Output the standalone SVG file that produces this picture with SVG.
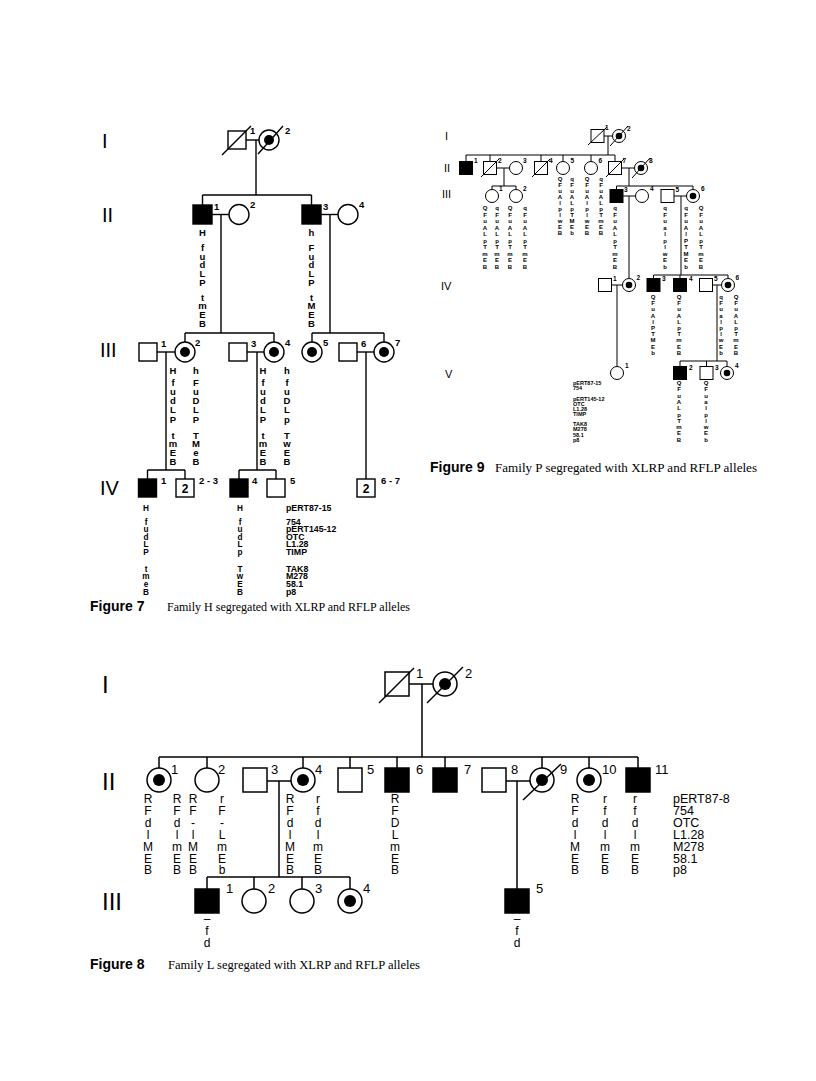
<svg xmlns="http://www.w3.org/2000/svg" width="816" height="1081" viewBox="0 0 816 1081">
<style>
.s7{stroke:#000;stroke-width:1.4;fill:none}
.s9{stroke:#000;stroke-width:1;fill:none}
.s8{stroke:#000;stroke-width:1.5;fill:none}
.o{fill:#fff}
.f{fill:#000}
text{font-family:"Liberation Sans",Arial,sans-serif;fill:#000}
.r7{font-size:20px}
.r8{font-size:24px}
.r9{font-size:11px}
.n7{font-size:9.5px;font-weight:bold}
.l7{font-size:9.5px;font-weight:bold;text-anchor:middle}
.l7s{font-size:8.2px;font-weight:bold;text-anchor:middle}
.g7{font-size:8.8px;font-weight:bold}
.in7{font-size:12px;font-weight:bold;text-anchor:middle}
.n9{font-size:6.5px;font-weight:bold}
.l9{font-size:6px;font-weight:bold;text-anchor:middle}
.g9{font-size:5.5px;font-weight:bold}
.n8{font-size:13px}
.l8{font-size:12px;text-anchor:middle}
.g8{font-size:12.5px}
.capb{font-size:14px;font-weight:bold}
.caps{font-family:"Liberation Serif","Times New Roman",serif;font-size:11.5px}
</style>
<rect width="816" height="1081" fill="#fff"/>

<!-- ================= FIGURE 7 ================= -->
<g id="fig7">
<text class="r7" x="102" y="148">I</text>
<text class="r7" x="102" y="222">II</text>
<text class="r7" x="100" y="357">III</text>
<text class="r7" x="100" y="495">IV</text>
<g id="f7-connectors" class="s7">
<line x1="246" y1="140" x2="259" y2="140"/>
<line x1="256" y1="140" x2="256" y2="195"/>
<line x1="202.5" y1="195" x2="311.5" y2="195"/>
<line x1="202.5" y1="195" x2="202.5" y2="205"/>
<line x1="311.5" y1="195" x2="311.5" y2="205"/>
<line x1="212" y1="214.5" x2="229" y2="214.5"/>
<line x1="221" y1="214.5" x2="221" y2="333"/>
<line x1="321" y1="214.5" x2="338" y2="214.5"/>
<line x1="330" y1="214.5" x2="330" y2="333"/>
<line x1="185" y1="333" x2="274" y2="333"/>
<line x1="185" y1="333" x2="185" y2="342"/>
<line x1="274" y1="333" x2="274" y2="342"/>
<line x1="312" y1="333" x2="384" y2="333"/>
<line x1="312" y1="333" x2="312" y2="342"/>
<line x1="384" y1="333" x2="384" y2="342"/>
<line x1="157" y1="352" x2="175" y2="352"/>
<line x1="166" y1="352" x2="166" y2="470"/>
<line x1="247" y1="352" x2="264" y2="352"/>
<line x1="257" y1="352" x2="257" y2="470"/>
<line x1="357" y1="352" x2="374" y2="352"/>
<line x1="366" y1="352" x2="366" y2="479"/>
<line x1="147.5" y1="470" x2="185" y2="470"/>
<line x1="147.5" y1="470" x2="147.5" y2="479"/>
<line x1="185" y1="470" x2="185" y2="479"/>
<line x1="239" y1="470" x2="276" y2="470"/>
<line x1="239" y1="470" x2="239" y2="479"/>
<line x1="276" y1="470" x2="276" y2="479"/>
</g>
<g id="f7-I-1"><rect class="s7 o" x="228" y="131" width="18" height="18"/><line class="s7" x1="222" y1="155" x2="251" y2="126"/><text class="n7" x="250" y="134">1</text></g>
<g id="f7-I-2"><circle class="s7 o" cx="269" cy="140" r="10"/><circle class="f" cx="269" cy="140" r="5"/><line class="s7" x1="258" y1="154" x2="283" y2="126"/><text class="n7" x="285" y="134">2</text></g>
<g id="f7-II-1"><rect class="s7 f" x="193" y="205" width="19" height="19"/><text class="n7" x="214" y="210">1</text></g>
<g id="f7-II-2"><circle class="s7 o" cx="239" cy="214.5" r="10"/><text class="n7" x="250" y="208">2</text></g>
<g id="f7-II-3"><rect class="s7 f" x="302" y="205" width="19" height="19"/><text class="n7" x="323" y="210">3</text></g>
<g id="f7-II-4"><circle class="s7 o" cx="348" cy="214.5" r="10"/><text class="n7" x="359" y="208">4</text></g>
<g id="f7-III-1"><rect class="s7 o" x="139" y="343" width="18" height="18"/><text class="n7" x="161" y="347">1</text></g>
<g id="f7-III-2"><circle class="s7 o" cx="185" cy="352" r="10"/><circle class="f" cx="185" cy="352" r="5"/><text class="n7" x="195" y="346">2</text></g>
<g id="f7-III-3"><rect class="s7 o" x="229" y="343" width="18" height="18"/><text class="n7" x="251" y="347">3</text></g>
<g id="f7-III-4"><circle class="s7 o" cx="274" cy="352" r="10"/><circle class="f" cx="274" cy="352" r="5"/><text class="n7" x="285" y="346">4</text></g>
<g id="f7-III-5"><circle class="s7 o" cx="312" cy="352" r="10"/><circle class="f" cx="312" cy="352" r="5"/><text class="n7" x="323" y="346">5</text></g>
<g id="f7-III-6"><rect class="s7 o" x="339" y="343" width="18" height="18"/><text class="n7" x="361" y="347">6</text></g>
<g id="f7-III-7"><circle class="s7 o" cx="384" cy="352" r="10"/><circle class="f" cx="384" cy="352" r="5"/><text class="n7" x="395" y="346">7</text></g>
<g id="f7-IV-1"><rect class="s7 f" x="138.5" y="479" width="18" height="18"/><text class="n7" x="161" y="484">1</text></g>
<g id="f7-IV-2-3"><rect class="s7 o" x="176" y="479" width="18" height="18"/><text class="in7" x="185" y="493">2</text><text class="n7" x="199" y="484">2 - 3</text></g>
<g id="f7-IV-4"><rect class="s7 f" x="230" y="479" width="18" height="18"/><text class="n7" x="252" y="484">4</text></g>
<g id="f7-IV-5"><rect class="s7 o" x="267" y="479" width="18" height="18"/><text class="n7" x="290" y="484">5</text></g>
<g id="f7-IV-6-7"><rect class="s7 o" x="357" y="479" width="18" height="18"/><text class="in7" x="366" y="493">2</text><text class="n7" x="381" y="484">6 - 7</text></g>
<g id="f7-labels">
<text class="l7" x="202.5" y="236">H<tspan x="202.5" dy="15">f</tspan><tspan x="202.5" dy="8.7">u</tspan><tspan x="202.5" dy="8.7">d</tspan><tspan x="202.5" dy="8.7">L</tspan><tspan x="202.5" dy="8.7">P</tspan><tspan x="202.5" dy="14.7">t</tspan><tspan x="202.5" dy="8.7">m</tspan><tspan x="202.5" dy="8.7">E</tspan><tspan x="202.5" dy="8.7">B</tspan></text>
<text class="l7" x="311.5" y="236">h<tspan x="311.5" dy="15">F</tspan><tspan x="311.5" dy="8.7">u</tspan><tspan x="311.5" dy="8.7">d</tspan><tspan x="311.5" dy="8.7">L</tspan><tspan x="311.5" dy="8.7">P</tspan><tspan x="311.5" dy="14.7">t</tspan><tspan x="311.5" dy="8.7">M</tspan><tspan x="311.5" dy="8.7">E</tspan><tspan x="311.5" dy="8.7">B</tspan></text>
<text class="l7" x="173" y="373.5">H<tspan x="173" dy="12">f</tspan><tspan x="173" dy="9">u</tspan><tspan x="173" dy="9">d</tspan><tspan x="173" dy="9">L</tspan><tspan x="173" dy="10">P</tspan><tspan x="173" dy="16">t</tspan><tspan x="173" dy="8">m</tspan><tspan x="173" dy="9">E</tspan><tspan x="173" dy="9">B</tspan></text>
<text class="l7" x="196" y="373.5">h<tspan x="196" dy="12">F</tspan><tspan x="196" dy="9">u</tspan><tspan x="196" dy="9">D</tspan><tspan x="196" dy="9">L</tspan><tspan x="196" dy="10">P</tspan><tspan x="196" dy="16">T</tspan><tspan x="196" dy="8">M</tspan><tspan x="196" dy="9">e</tspan><tspan x="196" dy="9">B</tspan></text>
<text class="l7" x="263" y="373.5">H<tspan x="263" dy="12">f</tspan><tspan x="263" dy="9">u</tspan><tspan x="263" dy="9">d</tspan><tspan x="263" dy="9">L</tspan><tspan x="263" dy="10">P</tspan><tspan x="263" dy="16">t</tspan><tspan x="263" dy="8">m</tspan><tspan x="263" dy="9">E</tspan><tspan x="263" dy="9">B</tspan></text>
<text class="l7" x="287" y="373.5">h<tspan x="287" dy="12">f</tspan><tspan x="287" dy="9">u</tspan><tspan x="287" dy="9">D</tspan><tspan x="287" dy="9">L</tspan><tspan x="287" dy="10">p</tspan><tspan x="287" dy="16">T</tspan><tspan x="287" dy="8">w</tspan><tspan x="287" dy="9">E</tspan><tspan x="287" dy="9">B</tspan></text>
<text class="l7s" x="146" y="510.5">H<tspan x="146" dy="14">f</tspan><tspan x="146" dy="7">u</tspan><tspan x="146" dy="8">d</tspan><tspan x="146" dy="7">L</tspan><tspan x="146" dy="8">P</tspan><tspan x="146" dy="17">t</tspan><tspan x="146" dy="7">m</tspan><tspan x="146" dy="8">e</tspan><tspan x="146" dy="8">B</tspan></text>
<text class="l7s" x="240" y="510.5">H<tspan x="240" dy="14">f</tspan><tspan x="240" dy="7">u</tspan><tspan x="240" dy="8">d</tspan><tspan x="240" dy="7">L</tspan><tspan x="240" dy="8">p</tspan><tspan x="240" dy="17">T</tspan><tspan x="240" dy="7">w</tspan><tspan x="240" dy="8">E</tspan><tspan x="240" dy="8">B</tspan></text>
<text class="g7" x="286" y="510.5">pERT87-15</text>
<text class="g7" x="286" y="524.5">754</text>
<text class="g7" x="286" y="531.5">pERT145-12</text>
<text class="g7" x="286" y="539.5">OTC</text>
<text class="g7" x="286" y="546.5">L1.28</text>
<text class="g7" x="286" y="554.5">TIMP</text>
<text class="g7" x="286" y="571.5">TAK8</text>
<text class="g7" x="286" y="578.5">M278</text>
<text class="g7" x="286" y="586.5">58.1</text>
<text class="g7" x="286" y="594.5">p8</text>
</g>
<g id="f7-caption"><text class="capb" x="90" y="611">Figure 7</text><text class="caps" x="167" y="611" textLength="243" lengthAdjust="spacingAndGlyphs">Family H segregated with XLRP and RFLP alleles</text></g>
</g>

<!-- ================= FIGURE 9 ================= -->
<g id="fig9">
<text class="r9" x="445" y="140">I</text>
<text class="r9" x="444" y="172">II</text>
<text class="r9" x="442" y="198">III</text>
<text class="r9" x="441" y="290">IV</text>
<text class="r9" x="445" y="378">V</text>
<g id="f9-connectors" class="s9">
<line x1="604" y1="136" x2="612.5" y2="136"/>
<line x1="608" y1="136" x2="608" y2="155"/>
<line x1="466" y1="155" x2="615" y2="155"/>
<line x1="466" y1="155" x2="466" y2="161.5"/>
<line x1="490" y1="155" x2="490" y2="161.5"/>
<line x1="541" y1="155" x2="541" y2="161.5"/>
<line x1="563" y1="155" x2="563" y2="161.5"/>
<line x1="591" y1="155" x2="591" y2="161.5"/>
<line x1="615" y1="155" x2="615" y2="161.5"/>
<line x1="496.5" y1="168" x2="509.5" y2="168"/>
<line x1="504" y1="168" x2="504" y2="186"/>
<line x1="621.5" y1="168" x2="634.5" y2="168"/>
<line x1="629" y1="168" x2="629" y2="186"/>
<line x1="492" y1="186" x2="516" y2="186"/>
<line x1="492" y1="186" x2="492" y2="189.5"/>
<line x1="516" y1="186" x2="516" y2="189.5"/>
<line x1="616.5" y1="186" x2="693" y2="186"/>
<line x1="616.5" y1="186" x2="616.5" y2="189.5"/>
<line x1="693" y1="186" x2="693" y2="189.5"/>
<line x1="623" y1="196" x2="635.5" y2="196"/>
<line x1="629" y1="196" x2="629" y2="278.5"/>
<line x1="674" y1="196" x2="686.5" y2="196"/>
<line x1="681" y1="196" x2="681" y2="275"/>
<line x1="653.5" y1="275" x2="728" y2="275"/>
<line x1="653.5" y1="275" x2="653.5" y2="278.5"/>
<line x1="680" y1="275" x2="680" y2="278.5"/>
<line x1="728" y1="275" x2="728" y2="278.5"/>
<line x1="611.5" y1="285" x2="622.5" y2="285"/>
<line x1="617" y1="285" x2="617" y2="366.5"/>
<line x1="712.5" y1="285" x2="721.5" y2="285"/>
<line x1="717" y1="285" x2="717" y2="361"/>
<line x1="680" y1="361" x2="727" y2="361"/>
<line x1="680" y1="361" x2="680" y2="366.5"/>
<line x1="706.5" y1="361" x2="706.5" y2="366.5"/>
<line x1="727" y1="361" x2="727" y2="366.5"/>
</g>
<g id="f9-I-1"><rect class="s9 o" x="591" y="129.5" width="13" height="13"/><line class="s9" x1="588" y1="145" x2="607" y2="127"/><text class="n9" x="605" y="130">1</text></g>
<g id="f9-I-2"><circle class="s9 o" cx="619" cy="136" r="6.5"/><circle class="f" cx="619" cy="136" r="3.3"/><line class="s9" x1="610" y1="146" x2="628" y2="126"/><text class="n9" x="627" y="131">2</text></g>
<g id="f9-II-1"><rect class="s9 f" x="459.5" y="161.5" width="13" height="13"/><text class="n9" x="474" y="163">1</text></g>
<g id="f9-II-2"><rect class="s9 o" x="483.5" y="161.5" width="13" height="13"/><line class="s9" x1="481" y1="177" x2="499" y2="159"/><text class="n9" x="498" y="163">2</text></g>
<g id="f9-II-3"><circle class="s9 o" cx="516" cy="168" r="6.5"/><text class="n9" x="523" y="163">3</text></g>
<g id="f9-II-4"><rect class="s9 o" x="534.5" y="161.5" width="13" height="13"/><line class="s9" x1="532" y1="177" x2="550" y2="159"/><text class="n9" x="549" y="163">4</text></g>
<g id="f9-II-5"><circle class="s9 o" cx="563" cy="168" r="6.5"/><text class="n9" x="570.5" y="163">5</text></g>
<g id="f9-II-6"><circle class="s9 o" cx="591" cy="168" r="6.5"/><text class="n9" x="598.5" y="163">6</text></g>
<g id="f9-II-7"><rect class="s9 o" x="608.5" y="161.5" width="13" height="13"/><line class="s9" x1="606" y1="177" x2="624" y2="159"/><text class="n9" x="622.5" y="163">7</text></g>
<g id="f9-II-8"><circle class="s9 o" cx="641" cy="168" r="6.5"/><circle class="f" cx="641" cy="168" r="3.3"/><line class="s9" x1="632" y1="178" x2="650" y2="158"/><text class="n9" x="649" y="163">8</text></g>
<g id="f9-III-1"><circle class="s9 o" cx="492" cy="196" r="6.5"/><text class="n9" x="499" y="191">1</text></g>
<g id="f9-III-2"><circle class="s9 o" cx="516" cy="196" r="6.5"/><text class="n9" x="523" y="191">2</text></g>
<g id="f9-III-3"><rect class="s9 f" x="610" y="189.5" width="13" height="13"/><text class="n9" x="624" y="192">3</text></g>
<g id="f9-III-4"><circle class="s9 o" cx="642" cy="196" r="6.5"/><text class="n9" x="650" y="191">4</text></g>
<g id="f9-III-5"><rect class="s9 o" x="661" y="189.5" width="13" height="13"/><text class="n9" x="675.5" y="192">5</text></g>
<g id="f9-III-6"><circle class="s9 o" cx="693" cy="196" r="6.5"/><circle class="f" cx="693" cy="196" r="3.3"/><text class="n9" x="701" y="191">6</text></g>
<g id="f9-IV-1"><rect class="s9 o" x="598.5" y="278.5" width="13" height="13"/><text class="n9" x="613" y="281">1</text></g>
<g id="f9-IV-2"><circle class="s9 o" cx="629" cy="285" r="6.5"/><circle class="f" cx="629" cy="285" r="3.3"/><text class="n9" x="636.5" y="280">2</text></g>
<g id="f9-IV-3"><rect class="s9 f" x="647" y="278.5" width="13" height="13"/><text class="n9" x="662" y="281">3</text></g>
<g id="f9-IV-4"><rect class="s9 f" x="673.5" y="278.5" width="13" height="13"/><text class="n9" x="689" y="281">4</text></g>
<g id="f9-IV-5"><rect class="s9 o" x="699.5" y="278.5" width="13" height="13"/><text class="n9" x="714" y="281">5</text></g>
<g id="f9-IV-6"><circle class="s9 o" cx="728" cy="285" r="6.5"/><circle class="f" cx="728" cy="285" r="3.3"/><text class="n9" x="735.5" y="280">6</text></g>
<g id="f9-V-1"><circle class="s9 o" cx="617" cy="373" r="6.5"/><text class="n9" x="625" y="368">1</text></g>
<g id="f9-V-2"><rect class="s9 f" x="673.5" y="366.5" width="13" height="13"/><text class="n9" x="689" y="370">2</text></g>
<g id="f9-V-3"><rect class="s9 o" x="700" y="366.5" width="13" height="13"/><text class="n9" x="715" y="370">3</text></g>
<g id="f9-V-4"><circle class="s9 o" cx="727" cy="373" r="6.5"/><circle class="f" cx="727" cy="373" r="3.3"/><text class="n9" x="735" y="368">4</text></g>
<g id="f9-labels">
<text class="l9" x="560" y="180.5">Q<tspan x="560" dy="6">F</tspan><tspan x="560" dy="6">u</tspan><tspan x="560" dy="6">A</tspan><tspan x="560" dy="6">l</tspan><tspan x="560" dy="6">p</tspan><tspan x="560" dy="6">l</tspan><tspan x="560" dy="6">w</tspan><tspan x="560" dy="6">E</tspan><tspan x="560" dy="6">B</tspan></text>
<text class="l9" x="572" y="180.5">q<tspan x="572" dy="6">F</tspan><tspan x="572" dy="6">u</tspan><tspan x="572" dy="6">A</tspan><tspan x="572" dy="6">L</tspan><tspan x="572" dy="6">p</tspan><tspan x="572" dy="6">T</tspan><tspan x="572" dy="6">M</tspan><tspan x="572" dy="6">E</tspan><tspan x="572" dy="6">b</tspan></text>
<text class="l9" x="587" y="180.5">Q<tspan x="587" dy="6">F</tspan><tspan x="587" dy="6">u</tspan><tspan x="587" dy="6">A</tspan><tspan x="587" dy="6">l</tspan><tspan x="587" dy="6">p</tspan><tspan x="587" dy="6">l</tspan><tspan x="587" dy="6">w</tspan><tspan x="587" dy="6">E</tspan><tspan x="587" dy="6">B</tspan></text>
<text class="l9" x="601" y="180.5">q<tspan x="601" dy="6">F</tspan><tspan x="601" dy="6">u</tspan><tspan x="601" dy="6">A</tspan><tspan x="601" dy="6">L</tspan><tspan x="601" dy="6">p</tspan><tspan x="601" dy="6">T</tspan><tspan x="601" dy="6">m</tspan><tspan x="601" dy="6">E</tspan><tspan x="601" dy="6">B</tspan></text>
<text class="l9" x="485" y="210">Q<tspan x="485" dy="6.55">F</tspan><tspan x="485" dy="6.55">u</tspan><tspan x="485" dy="6.55">A</tspan><tspan x="485" dy="6.55">L</tspan><tspan x="485" dy="6.55">p</tspan><tspan x="485" dy="6.55">T</tspan><tspan x="485" dy="6.55">m</tspan><tspan x="485" dy="6.55">E</tspan><tspan x="485" dy="6.55">B</tspan></text>
<text class="l9" x="497" y="210">q<tspan x="497" dy="6.55">F</tspan><tspan x="497" dy="6.55">u</tspan><tspan x="497" dy="6.55">A</tspan><tspan x="497" dy="6.55">L</tspan><tspan x="497" dy="6.55">p</tspan><tspan x="497" dy="6.55">T</tspan><tspan x="497" dy="6.55">m</tspan><tspan x="497" dy="6.55">E</tspan><tspan x="497" dy="6.55">B</tspan></text>
<text class="l9" x="510" y="210">Q<tspan x="510" dy="6.55">F</tspan><tspan x="510" dy="6.55">u</tspan><tspan x="510" dy="6.55">A</tspan><tspan x="510" dy="6.55">L</tspan><tspan x="510" dy="6.55">p</tspan><tspan x="510" dy="6.55">T</tspan><tspan x="510" dy="6.55">m</tspan><tspan x="510" dy="6.55">E</tspan><tspan x="510" dy="6.55">B</tspan></text>
<text class="l9" x="525" y="210">q<tspan x="525" dy="6.55">F</tspan><tspan x="525" dy="6.55">u</tspan><tspan x="525" dy="6.55">A</tspan><tspan x="525" dy="6.55">L</tspan><tspan x="525" dy="6.55">p</tspan><tspan x="525" dy="6.55">T</tspan><tspan x="525" dy="6.55">m</tspan><tspan x="525" dy="6.55">E</tspan><tspan x="525" dy="6.55">B</tspan></text>
<text class="l9" x="615" y="210">q<tspan x="615" dy="6.55">F</tspan><tspan x="615" dy="6.55">u</tspan><tspan x="615" dy="6.55">A</tspan><tspan x="615" dy="6.55">L</tspan><tspan x="615" dy="6.55">p</tspan><tspan x="615" dy="6.55">T</tspan><tspan x="615" dy="6.55">m</tspan><tspan x="615" dy="6.55">E</tspan><tspan x="615" dy="6.55">B</tspan></text>
<text class="l9" x="665" y="210">q<tspan x="665" dy="6.55">F</tspan><tspan x="665" dy="6.55">u</tspan><tspan x="665" dy="6.55">a</tspan><tspan x="665" dy="6.55">l</tspan><tspan x="665" dy="6.55">p</tspan><tspan x="665" dy="6.55">l</tspan><tspan x="665" dy="6.55">w</tspan><tspan x="665" dy="6.55">E</tspan><tspan x="665" dy="6.55">b</tspan></text>
<text class="l9" x="686" y="210">q<tspan x="686" dy="6.55">F</tspan><tspan x="686" dy="6.55">u</tspan><tspan x="686" dy="6.55">A</tspan><tspan x="686" dy="6.55">l</tspan><tspan x="686" dy="6.55">P</tspan><tspan x="686" dy="6.55">T</tspan><tspan x="686" dy="6.55">M</tspan><tspan x="686" dy="6.55">E</tspan><tspan x="686" dy="6.55">b</tspan></text>
<text class="l9" x="701" y="210">Q<tspan x="701" dy="6.55">F</tspan><tspan x="701" dy="6.55">u</tspan><tspan x="701" dy="6.55">A</tspan><tspan x="701" dy="6.55">L</tspan><tspan x="701" dy="6.55">p</tspan><tspan x="701" dy="6.55">T</tspan><tspan x="701" dy="6.55">m</tspan><tspan x="701" dy="6.55">E</tspan><tspan x="701" dy="6.55">B</tspan></text>
<text class="l9" x="653" y="299">Q<tspan x="653" dy="6.2">F</tspan><tspan x="653" dy="6.2">u</tspan><tspan x="653" dy="6.2">A</tspan><tspan x="653" dy="6.2">l</tspan><tspan x="653" dy="6.2">P</tspan><tspan x="653" dy="6.2">T</tspan><tspan x="653" dy="6.2">M</tspan><tspan x="653" dy="6.2">E</tspan><tspan x="653" dy="6.2">b</tspan></text>
<text class="l9" x="679" y="299">Q<tspan x="679" dy="6.2">F</tspan><tspan x="679" dy="6.2">u</tspan><tspan x="679" dy="6.2">A</tspan><tspan x="679" dy="6.2">L</tspan><tspan x="679" dy="6.2">p</tspan><tspan x="679" dy="6.2">T</tspan><tspan x="679" dy="6.2">m</tspan><tspan x="679" dy="6.2">E</tspan><tspan x="679" dy="6.2">B</tspan></text>
<text class="l9" x="721" y="299">q<tspan x="721" dy="6.2">F</tspan><tspan x="721" dy="6.2">u</tspan><tspan x="721" dy="6.2">a</tspan><tspan x="721" dy="6.2">l</tspan><tspan x="721" dy="6.2">p</tspan><tspan x="721" dy="6.2">l</tspan><tspan x="721" dy="6.2">w</tspan><tspan x="721" dy="6.2">E</tspan><tspan x="721" dy="6.2">b</tspan></text>
<text class="l9" x="736" y="299">Q<tspan x="736" dy="6.2">F</tspan><tspan x="736" dy="6.2">u</tspan><tspan x="736" dy="6.2">A</tspan><tspan x="736" dy="6.2">L</tspan><tspan x="736" dy="6.2">p</tspan><tspan x="736" dy="6.2">T</tspan><tspan x="736" dy="6.2">m</tspan><tspan x="736" dy="6.2">E</tspan><tspan x="736" dy="6.2">B</tspan></text>
<text class="l9" x="679" y="385">Q<tspan x="679" dy="6.3">F</tspan><tspan x="679" dy="6.3">u</tspan><tspan x="679" dy="6.3">A</tspan><tspan x="679" dy="6.3">L</tspan><tspan x="679" dy="6.3">p</tspan><tspan x="679" dy="6.3">T</tspan><tspan x="679" dy="6.3">m</tspan><tspan x="679" dy="6.3">E</tspan><tspan x="679" dy="6.3">B</tspan></text>
<text class="l9" x="706" y="385">Q<tspan x="706" dy="6.3">F</tspan><tspan x="706" dy="6.3">u</tspan><tspan x="706" dy="6.3">a</tspan><tspan x="706" dy="6.3">l</tspan><tspan x="706" dy="6.3">p</tspan><tspan x="706" dy="6.3">l</tspan><tspan x="706" dy="6.3">w</tspan><tspan x="706" dy="6.3">E</tspan><tspan x="706" dy="6.3">b</tspan></text>
<text class="g9" x="573" y="385">pERT87-15</text>
<text class="g9" x="573" y="390">754</text>
<text class="g9" x="573" y="400.5">pERT145-12</text>
<text class="g9" x="573" y="405.5">OTC</text>
<text class="g9" x="573" y="411">L1.28</text>
<text class="g9" x="573" y="416">TIMP</text>
<text class="g9" x="573" y="426">TAK8</text>
<text class="g9" x="573" y="431">M278</text>
<text class="g9" x="573" y="436.5">58.1</text>
<text class="g9" x="573" y="442">p8</text>
</g>
<g id="f9-caption"><text class="capb" x="430" y="472">Figure 9</text><text class="caps" x="495" y="472" textLength="262" lengthAdjust="spacingAndGlyphs">Family P segregated with XLRP and RFLP alleles</text></g>
</g>

<!-- ================= FIGURE 8 ================= -->
<g id="fig8">
<text class="r8" x="102" y="693">I</text>
<text class="r8" x="102" y="790">II</text>
<text class="r8" x="102" y="910">III</text>
<g id="f8-connectors" class="s8">
<line x1="409" y1="684" x2="433" y2="684"/>
<line x1="422" y1="684" x2="422" y2="757"/>
<line x1="159" y1="757" x2="638" y2="757"/>
<line x1="159" y1="757" x2="159" y2="768"/>
<line x1="207" y1="757" x2="207" y2="768"/>
<line x1="303" y1="757" x2="303" y2="768"/>
<line x1="350" y1="757" x2="350" y2="768"/>
<line x1="397" y1="757" x2="397" y2="768"/>
<line x1="445" y1="757" x2="445" y2="768"/>
<line x1="542" y1="757" x2="542" y2="768"/>
<line x1="589" y1="757" x2="589" y2="768"/>
<line x1="638" y1="757" x2="638" y2="768"/>
<line x1="267" y1="781" x2="291" y2="781"/>
<line x1="279" y1="781" x2="279" y2="877"/>
<line x1="506" y1="781" x2="530" y2="781"/>
<line x1="517" y1="781" x2="517" y2="889"/>
<line x1="207" y1="877" x2="350" y2="877"/>
<line x1="207" y1="877" x2="207" y2="889"/>
<line x1="254" y1="877" x2="254" y2="889"/>
<line x1="302" y1="877" x2="302" y2="889"/>
<line x1="350" y1="877" x2="350" y2="889"/>
</g>
<g id="f8-I-1"><rect class="s8 o" x="385" y="672" width="24" height="24"/><line class="s8" x1="379" y1="703" x2="414" y2="668"/><text class="n8" x="416" y="678">1</text></g>
<g id="f8-I-2"><circle class="s8 o" cx="445" cy="684" r="12"/><circle class="f" cx="445" cy="684" r="6"/><line class="s8" x1="427" y1="703" x2="463" y2="667"/><text class="n8" x="465" y="678">2</text></g>
<g id="f8-II-1"><circle class="s8 o" cx="159" cy="780" r="12"/><circle class="f" cx="159" cy="780" r="6"/><text class="n8" x="171" y="774">1</text></g>
<g id="f8-II-2"><circle class="s8 o" cx="207" cy="780" r="12"/><text class="n8" x="218" y="774">2</text></g>
<g id="f8-II-3"><rect class="s8 o" x="243" y="768" width="24" height="24"/><text class="n8" x="271" y="774">3</text></g>
<g id="f8-II-4"><circle class="s8 o" cx="303" cy="780" r="12"/><circle class="f" cx="303" cy="780" r="6"/><text class="n8" x="315" y="774">4</text></g>
<g id="f8-II-5"><rect class="s8 o" x="338" y="768" width="24" height="24"/><text class="n8" x="367" y="774">5</text></g>
<g id="f8-II-6"><rect class="s8 f" x="385" y="768" width="24" height="24"/><text class="n8" x="416" y="774">6</text></g>
<g id="f8-II-7"><rect class="s8 f" x="433" y="768" width="24" height="24"/><text class="n8" x="464" y="774">7</text></g>
<g id="f8-II-8"><rect class="s8 o" x="482" y="768" width="24" height="24"/><text class="n8" x="511" y="774">8</text></g>
<g id="f8-II-9"><circle class="s8 o" cx="542" cy="780" r="12"/><circle class="f" cx="542" cy="780" r="6"/><line class="s8" x1="523" y1="800" x2="561" y2="764"/><text class="n8" x="560" y="774">9</text></g>
<g id="f8-II-10"><circle class="s8 o" cx="589" cy="780" r="12"/><circle class="f" cx="589" cy="780" r="6"/><text class="n8" x="602" y="774">10</text></g>
<g id="f8-II-11"><rect class="s8 f" x="626" y="768" width="24" height="24"/><text class="n8" x="655" y="774">11</text></g>
<g id="f8-III-1"><rect class="s8 f" x="195" y="889" width="24" height="24"/><text class="n8" x="226" y="893">1</text></g>
<g id="f8-III-2"><circle class="s8 o" cx="254" cy="901" r="12"/><text class="n8" x="268" y="893">2</text></g>
<g id="f8-III-3"><circle class="s8 o" cx="302" cy="901" r="12"/><text class="n8" x="315" y="893">3</text></g>
<g id="f8-III-4"><circle class="s8 o" cx="350" cy="901" r="12"/><circle class="f" cx="350" cy="901" r="6"/><text class="n8" x="363" y="893">4</text></g>
<g id="f8-III-5"><rect class="s8 f" x="505" y="889" width="24" height="24"/><text class="n8" x="536" y="893">5</text></g>
<g id="f8-labels">
<text class="l8" x="148" y="803">R<tspan x="148" dy="12">F</tspan><tspan x="148" dy="12">d</tspan><tspan x="148" dy="11.5">l</tspan><tspan x="148" dy="12">M</tspan><tspan x="148" dy="12">E</tspan><tspan x="148" dy="11.5">B</tspan></text>
<text class="l8" x="177" y="803">R<tspan x="177" dy="12">F</tspan><tspan x="177" dy="12">d</tspan><tspan x="177" dy="11.5">l</tspan><tspan x="177" dy="12">m</tspan><tspan x="177" dy="12">E</tspan><tspan x="177" dy="11.5">B</tspan></text>
<text class="l8" x="193" y="803">R<tspan x="193" dy="12">F</tspan><tspan x="193" dy="12">-</tspan><tspan x="193" dy="11.5">l</tspan><tspan x="193" dy="12">M</tspan><tspan x="193" dy="12">E</tspan><tspan x="193" dy="11.5">B</tspan></text>
<text class="l8" x="222" y="803">r<tspan x="222" dy="12">F</tspan><tspan x="222" dy="12">-</tspan><tspan x="222" dy="11.5">L</tspan><tspan x="222" dy="12">m</tspan><tspan x="222" dy="12">E</tspan><tspan x="222" dy="11.5">b</tspan></text>
<text class="l8" x="290" y="803">R<tspan x="290" dy="12">F</tspan><tspan x="290" dy="12">d</tspan><tspan x="290" dy="11.5">l</tspan><tspan x="290" dy="12">M</tspan><tspan x="290" dy="12">E</tspan><tspan x="290" dy="11.5">B</tspan></text>
<text class="l8" x="318" y="803">r<tspan x="318" dy="12">f</tspan><tspan x="318" dy="12">d</tspan><tspan x="318" dy="11.5">l</tspan><tspan x="318" dy="12">m</tspan><tspan x="318" dy="12">E</tspan><tspan x="318" dy="11.5">B</tspan></text>
<text class="l8" x="395" y="803">R<tspan x="395" dy="12">F</tspan><tspan x="395" dy="12">D</tspan><tspan x="395" dy="11.5">L</tspan><tspan x="395" dy="12">m</tspan><tspan x="395" dy="12">E</tspan><tspan x="395" dy="11.5">B</tspan></text>
<text class="l8" x="575" y="803">R<tspan x="575" dy="12">F</tspan><tspan x="575" dy="12">d</tspan><tspan x="575" dy="11.5">l</tspan><tspan x="575" dy="12">M</tspan><tspan x="575" dy="12">E</tspan><tspan x="575" dy="11.5">B</tspan></text>
<text class="l8" x="605" y="803">r<tspan x="605" dy="12">f</tspan><tspan x="605" dy="12">d</tspan><tspan x="605" dy="11.5">l</tspan><tspan x="605" dy="12">m</tspan><tspan x="605" dy="12">E</tspan><tspan x="605" dy="11.5">B</tspan></text>
<text class="l8" x="635" y="803">r<tspan x="635" dy="12">f</tspan><tspan x="635" dy="12">d</tspan><tspan x="635" dy="11.5">l</tspan><tspan x="635" dy="12">m</tspan><tspan x="635" dy="12">E</tspan><tspan x="635" dy="11.5">B</tspan></text>
<text class="g8" x="673" y="803">pERT87-8<tspan x="673" dy="12">754</tspan><tspan x="673" dy="12">OTC</tspan><tspan x="673" dy="11.5">L1.28</tspan><tspan x="673" dy="12">M278</tspan><tspan x="673" dy="12">58.1</tspan><tspan x="673" dy="11.5">p8</tspan></text>
<text class="l8" x="207" y="923">–<tspan x="207" dy="12">f</tspan><tspan x="207" dy="12">d</tspan></text>
<text class="l8" x="517" y="923">–<tspan x="517" dy="12">f</tspan><tspan x="517" dy="12">d</tspan></text>
</g>
<g id="f8-caption"><text class="capb" x="90" y="969">Figure 8</text><text class="caps" x="168" y="969" textLength="252" lengthAdjust="spacingAndGlyphs">Family L segregated with XLRP and RFLP alleles</text></g>
</g>
</svg>
